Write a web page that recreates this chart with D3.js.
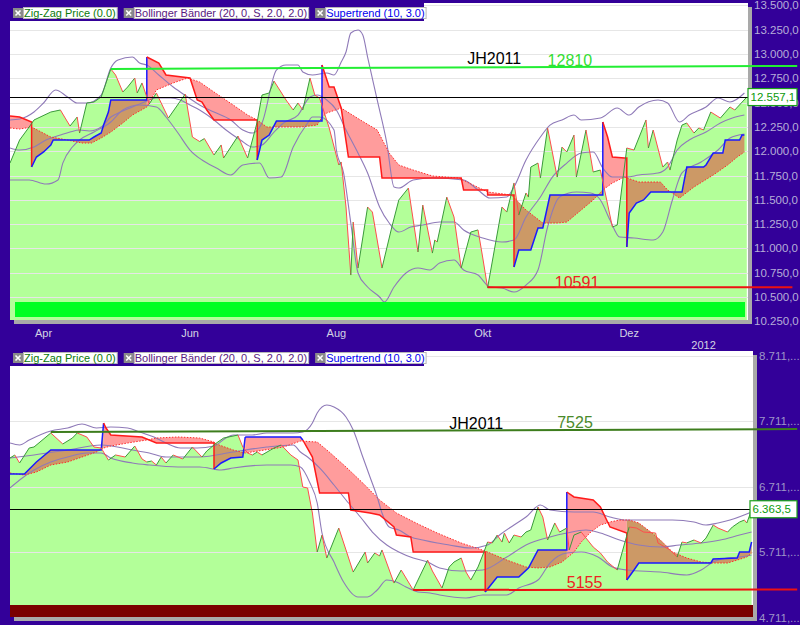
<!DOCTYPE html>
<html><head><meta charset="utf-8">
<script src="https://cdn.jsdelivr.net/npm/d3@7/dist/d3.min.js"></script>
<style>html,body{margin:0;padding:0;background:#330099;overflow:hidden}svg{display:block}</style>
</head><body>
<svg id="chart" width="800" height="625" font-family="'Liberation Sans', Arial, sans-serif"></svg>
<script>
// ================= DATA =================
const startDate = "2011-03-18";           // day 0 of all day offsets
const lastDay = 307;
const monthTickDates = ["2011-04-01","2011-06-01","2011-08-01","2011-10-01","2011-12-01"];
const monthTickLabels = ["Apr","Jun","Aug","Okt","Dez"];
const yearTickDate = "2012-01-01";
const yearTickLabel = "2012";

const legendLabels = ["Zig-Zag Price (0.0)", "Bollinger Bänder (20, 0, S, 2.0, 2.0)", "Supertrend (10, 3.0)"];

// ---- top panel (Dow Jones) ----
const topTicks = [10250,10500,10750,11000,11250,11500,11750,12000,12250,12500,12750,13000,13250,13500];
const topLast = 12557.1;
const topLastLabel = "12.557,1";
const topPriceDays = [0,4,8,10,17,21,23,25,28,29,32,35,38,42,44,47,49,52,53,55,58,61,66,73,76,79,81,85,88,89,92,95,99,103,105,108,110,115,118,120,122,125,127,129,133,137,138,140,142,143,145,149,151,155,159,162,166,170,172,176,177,178,182,185,188,192,195,197,199,205,207,210,212,215,216,217,220,221,224,228,230,232,235,236,240,243,246,251,253,257,260,265,266,268,272,274,275,278,280,282,285,287,289,292,296,300,302,307];
const topPriceVals = [11878,12115,12249,12321,12403,12424,12341,12259,12352,12187,12496,12506,12558,12846,12784,12609,12660,12753,12599,12702,12485,12599,12341,12588,12146,12100,12130,11961,12064,11930,12043,12156,11930,12300,12578,12599,12722,12527,12424,12496,12424,12753,12578,12547,12239,11858,11889,11426,10726,11271,10798,11426,11374,10798,11210,11498,11621,10963,11446,10952,11086,11066,11528,11323,10798,11168,11190,10901,10595,11426,11374,11673,11343,11570,11528,11837,11878,11724,12239,11734,12043,11992,12166,11734,12218,11786,11806,11220,11240,12033,12012,12321,12033,12218,11837,11889,11806,12115,12269,12290,12187,12239,12218,12403,12341,12455,12424,12557];
const topUpperDays = [0,4,10,14,19,24,28,32,38,42,45,51,54,57,62,68,74,79,85,92,97,101,105,111,115,120,122,126,132,135,138,140,142,145,147,149,153,157,160,162,168,176,189,195,200,207,210,215,221,225,230,235,238,246,253,258,262,270,274,279,283,290,295,300,306];
const topUpperVals = [12321,12331,12403,12496,12630,12558,12496,12496,12578,12856,12938,12969,12907,12887,12784,12660,12558,12475,12403,12321,12218,12187,12290,12835,12887,12887,12815,12784,12805,12784,12918,13021,13216,13247,13196,12969,12527,12084,11632,11621,11704,11724,11704,11601,11518,11529,11632,11909,12146,12269,12321,12372,12321,12341,12444,12372,12455,12527,12496,12300,12372,12455,12547,12506,12599];
const topMidDays = [0,4,10,15,21,25,29,33,38,42,46,51,55,61,67,71,75,79,85,90,96,101,105,110,114,120,125,128,132,136,140,145,149,154,158,162,167,172,179,185,189,197,205,210,215,221,226,232,238,243,247,251,257,262,270,274,278,283,290,296,301,306];
const topMidVals = [12033,12012,12043,12115,12166,12197,12218,12208,12249,12352,12403,12455,12496,12547,12547,12527,12475,12424,12321,12218,12115,12043,12064,12197,12290,12372,12558,12578,12527,12424,12218,11981,11775,11426,11261,11168,11220,11240,11271,11271,11189,11107,11066,11086,11323,11529,11734,11878,11981,11992,11827,11734,11734,11755,11775,11837,12012,12115,12197,12290,12341,12372];
const topLowerDays = [0,8,15,20,22,26,29,35,42,47,54,61,65,70,75,80,86,92,97,104,108,113,118,124,126,129,135,136,139,142,145,149,154,156,160,165,170,175,179,185,189,195,200,205,210,215,220,224,229,236,242,246,250,254,260,268,272,276,280,288,295,300,306];
const topLowerVals = [11704,11704,11662,11704,11878,12043,12115,12197,12300,12424,12475,12455,12352,12187,12012,11909,11827,11755,11858,11878,11724,11734,12043,12290,12352,12352,12218,12012,11775,11261,10747,10603,10500,10448,10603,10747,10798,10778,10850,10880,10778,10726,10603,10592,10551,10623,10778,11220,11529,11580,11570,11498,11292,11117,11107,11086,11168,11498,11776,11889,12012,12136,12177];
const topStDays = [0,4,9,9,11,14,17,18,33,35,38,39,41,42,57,57,62,65,75,78,80,82,85,103,103,105,108,111,130,130,133,135,138,141,154,155,188,189,199,199,210,210,212,217,220,222,225,247,247,249,251,256,257,257,258,261,264,267,280,282,289,290,293,297,298,304,305,306];
const topStVals = [12362,12352,12300,11837,11940,11992,12064,12115,12115,12146,12187,12269,12403,12527,12527,12969,12907,12784,12753,12527,12506,12424,12321,12321,11909,12115,12166,12310,12310,12887,12660,12660,12444,11940,11940,11724,11724,11601,11601,11549,11549,10808,10983,10983,11210,11210,11549,11549,12300,12146,11940,11930,11930,11014,11364,11467,11498,11580,11580,11837,11837,11858,11981,11981,12115,12115,12166,12166];
const topStTrend = ("ddd"+"uuuuuuuuuuuu"+"ddddddddd"+"uuuuu"+"dddddddddddd"+"uuuuuuu"+"ddddd"+"uuuuuuuuuuuuuuu").split("");
const topDotDays = [0,4,9,17,24,30,34,38,42,47,51,57,61,68,74,79,85,93,99,103,107,121,128,130,132,138,146,153,158,162,168,176,187,199,209,215,222,228,232,238,243,247,251,256,262,271,274,279,285,293,299,303,306];
const topDotVals = [12239,12228,12249,12146,12115,12084,12084,12136,12197,12290,12372,12455,12630,12702,12753,12712,12609,12475,12372,12321,12249,12249,12269,12352,12393,12444,12321,12218,11981,11858,11806,11745,11724,11580,11549,11395,11261,11261,11271,11395,11498,11601,11673,11734,11683,11683,11601,11518,11632,11755,11858,11940,11992];
const topHiDays = [42,328], topHiVals = [12846,12877];
const topLoDays = [199,326], topLoVals = [10600,10600];

// ---- bottom panel (DAX) ----
const botTicks = [4711,5711,6711,7711,8711];
const botTickLabels = ["4.711,...","5.711,...","6.711,...","7.711,...","8.711,..."];
const botLast = 6363.5;
const botLastLabel = "6.363,5";
const botPriceDays = [0,2,4,8,10,17,22,26,28,32,35,38,41,44,48,52,55,57,59,61,63,65,68,72,76,80,82,86,89,95,97,99,101,103,105,110,113,117,120,122,124,126,128,130,132,137,143,148,149,152,154,155,160,163,168,174,176,180,183,185,188,190,192,195,197,199,201,203,205,206,208,210,213,215,217,220,222,224,227,229,232,233,235,238,243,246,249,253,258,261,264,269,270,275,278,280,282,285,288,290,293,295,299,301,304,306,307,309];
const botPriceVals = [7146,7192,7070,7299,7314,7528,7360,7451,7528,7467,7314,7299,7115,7192,7161,7329,7131,7085,7100,7039,7161,7070,7192,7131,7314,7161,7253,7375,7451,7497,7314,7222,7192,7238,7192,7299,7345,7192,7115,6703,6688,6306,5711,5970,5619,6077,5405,5711,5543,5696,5650,5742,5237,5436,5131,5588,5421,5161,5482,5558,5619,5405,5283,5482,5665,5863,5850,5970,5863,6001,5848,5970,5940,6016,6047,6398,6245,5894,6154,6016,6077,5742,5970,6016,5787,5696,5558,5436,6093,6077,6016,6001,5848,5742,5634,5863,5850,5894,5848,5924,6123,6077,6016,6093,6169,6199,6154,6352];
const botUpperDays = [0,4,8,17,24,30,36,42,49,54,60,65,71,78,85,90,93,101,107,114,118,122,126,128,132,135,140,143,147,150,153,155,158,162,167,172,178,183,192,199,204,210,215,221,225,235,243,250,257,276,285,290,295,300,309];
const botUpperVals = [7375,7345,7421,7558,7604,7665,7604,7619,7604,7543,7467,7375,7299,7299,7329,7451,7497,7497,7528,7528,7528,7543,7680,7833,7955,7925,7772,7574,7161,6856,6551,6306,6093,6047,5940,5894,5848,5818,5772,5818,5970,6123,6245,6428,6352,6322,6322,6245,6199,6199,6169,6123,6154,6199,6322];
const botMidDays = [0,10,24,38,51,58,65,79,93,107,118,121,124,129,135,140,146,151,157,162,168,174,179,188,197,207,215,225,232,240,246,254,262,271,279,288,296,304,309];
const botMidVals = [7146,7192,7268,7345,7268,7222,7161,7161,7238,7314,7345,7238,7161,6994,6734,6505,6245,6016,5818,5711,5619,5558,5467,5421,5436,5634,5818,5940,6001,6047,6001,5894,5818,5787,5818,5848,5894,5970,6016];
const botLowerDays = [0,4,10,17,24,32,38,42,51,58,70,79,88,93,107,117,121,125,128,130,135,139,145,149,153,157,161,165,170,175,179,190,197,207,212,220,225,232,238,245,251,257,271,282,288,293,299,304,309];
const botLowerVals = [6688,6810,6963,7085,7161,7222,7222,7146,7070,7039,7009,7009,6963,6994,7039,7039,7009,6764,6459,6001,5558,5253,5024,5024,5131,5283,5253,5177,5101,5085,5055,5009,5055,5055,5161,5283,5543,5696,5711,5634,5482,5436,5405,5360,5436,5558,5619,5634,5665];
const botStDays = [0,6,11,17,38,39,40,42,55,61,85,85,88,92,97,98,121,122,126,129,141,142,150,154,160,161,167,168,198,198,203,212,216,220,232,232,235,243,246,250,257,257,260,262,292,293,303,304,308,309];
const botStVals = [6902,6902,7085,7268,7268,7680,7604,7497,7467,7375,7375,6978,7070,7146,7161,7467,7467,7421,7161,6612,6612,6352,6306,6276,6093,5970,5940,5711,5711,5101,5329,5329,5467,5742,5742,6627,6551,6505,6398,6093,6001,5283,5436,5543,5543,5604,5619,5711,5711,5863];
const botStTrend = ("uuuuu"+"dddddd"+"uuuu"+"bb"+"dddddddddddd"+"uuuuuu"+"dddddd"+"uuuuuuuuu").split("");
const botDotDays = [0,6,11,17,24,30,36,39,42,49,57,61,70,79,85,86,93,98,114,121,128,133,140,147,154,161,170,178,188,198,207,215,220,225,230,235,238,242,246,250,254,258,262,267,271,276,282,288,293,299,303,307,309];
const botDotVals = [6917,6886,6932,7039,7085,7161,7238,7299,7329,7375,7421,7451,7467,7451,7390,7360,7268,7222,7314,7405,7390,7238,7009,6764,6505,6306,6138,6001,5848,5726,5588,5482,5467,5482,5558,5711,5863,6016,6123,6169,6199,6199,6154,6016,5894,5711,5619,5558,5543,5543,5588,5634,5696];
const botHiDays = [17,328], botHiVals = [7543,7589];
const botLoDays = [168,328], botLoVals = [5131,5138];

// ================= DRAWING =================
const svg = d3.select("#chart");
const parse = d3.utcParse("%Y-%m-%d");
const day0 = parse(startDate);
const dt = d => new Date(day0.getTime() + d * 864e5);
const x = d3.scaleUtc().domain([dt(0), dt(lastDay)]).range([10, 746.8]);
const fmtDE = d3.formatLocale({decimal: ",", thousands: ".", grouping: [3], currency: ["", ""]}).format(",.1f");

svg.append("rect").attr("width", 800).attr("height", 625).attr("fill", "#330099");

const C = {
  area: "#b3ff99", grid: "#e6e6e6", band: "#8f7ab8", up: "#3a9a3a", down: "#ff4d4d",
  stUp: "#1a1aff", stDown: "#ff1a1a", fillUp: "#cc9966", fillDown: "#ff9c9c", dot: "#ff2a2a"
};
const crisp = v => Math.round(v) + 0.5;

function interp(days, vals, d) {
  const i = d3.bisectLeft(days, d);
  if (i <= 0) return vals[0];
  if (i >= days.length) return vals[vals.length - 1];
  const d0 = days[i - 1], d1 = days[i];
  if (d1 === d0) return vals[i];
  return vals[i - 1] + (vals[i] - vals[i - 1]) * (d - d0) / (d1 - d0);
}
function groupsOf(days, vals, trend) {
  const groups = []; let cur = null;
  days.forEach((d, i) => {
    const t = trend[i];
    if (!cur || cur.t !== t) { if (cur) cur.pts.push([d, vals[i]]); cur = {t, pts: []}; groups.push(cur); }
    cur.pts.push([d, vals[i]]);
  });
  return groups;
}

function drawPanel(p, D) {
  const y = d3.scaleLinear().domain(p.yDomain).range(p.yRange);
  const line = d3.line().x(q => x(dt(q[0]))).y(q => y(q[1]));
  const zip = (a, b) => a.map((d, i) => [d, b[i]]);

  // shadow + panel
  svg.append("rect").attr("x", p.x0 + 4).attr("y", p.y0 + 4).attr("width", p.x1 - p.x0).attr("height", p.y1 - p.y0).attr("fill", "#a9a9a9");
  svg.append("rect").attr("x", p.x0).attr("y", p.y0).attr("width", p.x1 - p.x0).attr("height", p.y1 - p.y0).attr("fill", "#fff");
  svg.append("clipPath").attr("id", "clip" + p.id).append("rect")
    .attr("x", p.x0).attr("y", p.y0).attr("width", p.x1 - p.x0).attr("height", p.y1 - p.y0);
  const g = svg.append("g").attr("clip-path", `url(#clip${p.id})`);

  const price = zip(D.priceDays, D.priceVals);
  g.append("path").attr("d", d3.area().x(q => x(dt(q[0]))).y0(p.y1).y1(q => y(q[1]))(price)).attr("fill", C.area);

  D.ticks.forEach(t => g.append("line").attr("x1", p.x0).attr("x2", p.x1).attr("y1", crisp(y(t))).attr("y2", crisp(y(t)))
    .attr("stroke", C.grid).attr("stroke-width", 1));

  // supertrend fills
  const groups = groupsOf(D.stDays, D.stVals, D.stTrend);
  groups.forEach(gr => {
    const a = gr.pts[0][0], b = gr.pts[gr.pts.length - 1][0];
    const back = [[b, interp(D.dotDays, D.dotVals, b)]];
    for (let i = D.dotDays.length - 1; i >= 0; i--) if (D.dotDays[i] > a && D.dotDays[i] < b) back.push([D.dotDays[i], D.dotVals[i]]);
    back.push([a, interp(D.dotDays, D.dotVals, a)]);
    g.append("path").attr("d", line(gr.pts.concat(back)) + "Z")
      .attr("fill", gr.t === "u" ? C.fillUp : C.fillDown).attr("stroke", "none");
  });

  // bollinger bands
  [[D.upDays, D.upVals], [D.midDays, D.midVals], [D.lowDays, D.lowVals]].forEach(([ds, vs]) =>
    g.append("path").attr("d", d3.line().curve(d3.curveMonotoneX).x(q => x(dt(q[0]))).y(q => y(q[1]))(zip(ds, vs)))
      .attr("fill", "none").attr("stroke", C.band).attr("stroke-width", 1.1));

  // dotted line
  g.append("path").attr("d", line(zip(D.dotDays, D.dotVals))).attr("fill", "none")
    .attr("stroke", C.dot).attr("stroke-width", 1).attr("stroke-dasharray", "1.5,1.5");

  // supertrend lines
  groups.forEach(gr => g.append("path").attr("d", line(gr.pts)).attr("fill", "none")
    .attr("stroke", gr.t === "d" ? C.stDown : C.stUp).attr("stroke-width", 1.5));

  // zig-zag price
  for (let i = 0; i < price.length - 1; i++) {
    g.append("path").attr("d", line([price[i], price[i + 1]])).attr("fill", "none")
      .attr("stroke", price[i + 1][1] >= price[i][1] ? C.up : C.down).attr("stroke-width", 1);
  }

  // last price line
  const ly0 = crisp(y(D.last));
  g.append("line").attr("x1", p.x0).attr("x2", p.x1).attr("y1", ly0).attr("y2", ly0)
    .attr("stroke", "#000000").attr("stroke-width", 1);

  // bottom bar
  g.append("rect").attr("x", p.bar.x0).attr("y", p.bar.y0).attr("width", p.bar.x1 - p.bar.x0).attr("height", p.bar.y1 - p.bar.y0).attr("fill", p.bar.color);

  // hi / lo lines (extend past the plot)
  svg.append("path").attr("d", line(zip(D.hiDays, D.hiVals))).attr("stroke", p.hiColor).attr("stroke-width", 2).attr("fill", "none");
  svg.append("path").attr("d", line(zip(D.loLineDays, D.loLineVals))).attr("stroke", "#ee1111").attr("stroke-width", 2).attr("fill", "none");

  // annotations
  p.notes.forEach(n => svg.append("text").attr("x", x(dt(n.day))).attr("y", y(n.val)).attr("font-size", 16)
    .attr("fill", n.color).text(n.text));

  // right axis labels
  D.ticks.forEach((t, i) => svg.append("text").attr("x", p.axisX).attr("y", y(t)).attr("dy", "0.35em")
    .attr("font-size", p.axisSize).attr("fill", p.axisColor).text(D.tickLabels ? D.tickLabels[i] : fmtDE(t)));

  // last value box
  const by = y(D.last);
  svg.append("rect").attr("x", p.boxX).attr("y", by - 8.5).attr("width", 797 - p.boxX).attr("height", 17)
    .attr("fill", "#fff").attr("stroke", "#1aa01a").attr("stroke-width", 1.2);
  svg.append("text").attr("x", p.boxX + 2.5).attr("y", by).attr("dy", "0.36em").attr("font-size", 11.5)
    .attr("fill", "#0b9a0b").text(D.lastLabel);

  // legend band + legend
  svg.append("rect").attr("x", p.x0).attr("y", p.y0).attr("width", 414).attr("height", p.legY + 13 - p.y0).attr("fill", "#330099");
  const legColors = ["#0a7a0a", "#5a1a80", "#0000ee"];
  let lx = 13;
  legendLabels.forEach((t, i) => {
    const ly = p.legY;
    svg.append("rect").attr("x", lx).attr("y", ly).attr("width", 10).attr("height", 10).attr("fill", "#8a8a8a");
    svg.append("path").attr("d", `M${lx + 2.5},${ly + 2.5}L${lx + 7.5},${ly + 7.5}M${lx + 7.5},${ly + 2.5}L${lx + 2.5},${ly + 7.5}`)
      .attr("stroke", "#fff").attr("stroke-width", 1.6);
    const box = svg.append("rect").attr("x", lx + 10.5).attr("y", ly - 0.5).attr("height", 11).attr("fill", "#fff").attr("stroke", "#b8b8b8");
    const tx = svg.append("text").attr("x", lx + 11).attr("y", ly + 9.3).attr("font-size", 11).attr("fill", legColors[i]).text(t);
    const w = tx.node().getComputedTextLength();
    box.attr("width", w + 2);
    lx += 11 + w + 2 + 6;
  });
}

drawPanel({
  id: "t", x0: 10, x1: 748, y0: 3, y1: 320, yDomain: [10250, 13500], yRange: [321.3, 5.4],
  bar: {x0: 15, x1: 745, y0: 302, y1: 317, color: "#00ff22"}, hiColor: "#22ee33",
  axisX: 754, axisSize: 11.5, axisColor: "#b6aed8", boxX: 748, legY: 8,
  notes: [
    {text: "JH2011", day: 190.5, val: 12897, color: "#000"},
    {text: "12810", day: 224, val: 12876, color: "#33dd33"},
    {text: "10591", day: 227, val: 10592, color: "#ee2222"}
  ]
}, {
  ticks: topTicks, last: topLast, lastLabel: topLastLabel,
  priceDays: topPriceDays, priceVals: topPriceVals,
  upDays: topUpperDays, upVals: topUpperVals, midDays: topMidDays, midVals: topMidVals, lowDays: topLowerDays, lowVals: topLowerVals,
  stDays: topStDays, stVals: topStVals, stTrend: topStTrend, dotDays: topDotDays, dotVals: topDotVals,
  hiDays: topHiDays, hiVals: topHiVals, loLineDays: topLoDays, loLineVals: topLoVals
});

drawPanel({
  id: "b", x0: 10, x1: 753, y0: 351, y1: 617, yDomain: [4711, 8711], yRange: [617.5, 355.5],
  bar: {x0: 10, x1: 753, y0: 605, y1: 617, color: "#7a0000"}, hiColor: "#3d7d1d",
  axisX: 759, axisSize: 11.5, axisColor: "#9d95c8", boxX: 750, legY: 353,
  notes: [
    {text: "JH2011", day: 183, val: 7589, color: "#000"},
    {text: "7525", day: 228, val: 7604, color: "#4a8a2a"},
    {text: "5155", day: 232, val: 5161, color: "#ee2222"}
  ]
}, {
  ticks: botTicks, tickLabels: botTickLabels, last: botLast, lastLabel: botLastLabel,
  priceDays: botPriceDays, priceVals: botPriceVals,
  upDays: botUpperDays, upVals: botUpperVals, midDays: botMidDays, midVals: botMidVals, lowDays: botLowerDays, lowVals: botLowerVals,
  stDays: botStDays, stVals: botStVals, stTrend: botStTrend, dotDays: botDotDays, dotVals: botDotVals,
  hiDays: botHiDays, hiVals: botHiVals, loLineDays: botLoDays, loLineVals: botLoVals
});

// month labels (shared time axis)
monthTickDates.forEach((s, i) => svg.append("text").attr("x", x(parse(s))).attr("y", 337).attr("text-anchor", "middle")
  .attr("font-size", 11).attr("fill", "#d4d4e4").text(monthTickLabels[i]));
svg.append("text").attr("x", x(parse(yearTickDate))).attr("y", 349).attr("text-anchor", "middle")
  .attr("font-size", 11).attr("fill", "#d4d4e4").text(yearTickLabel);
</script>
</body></html>
